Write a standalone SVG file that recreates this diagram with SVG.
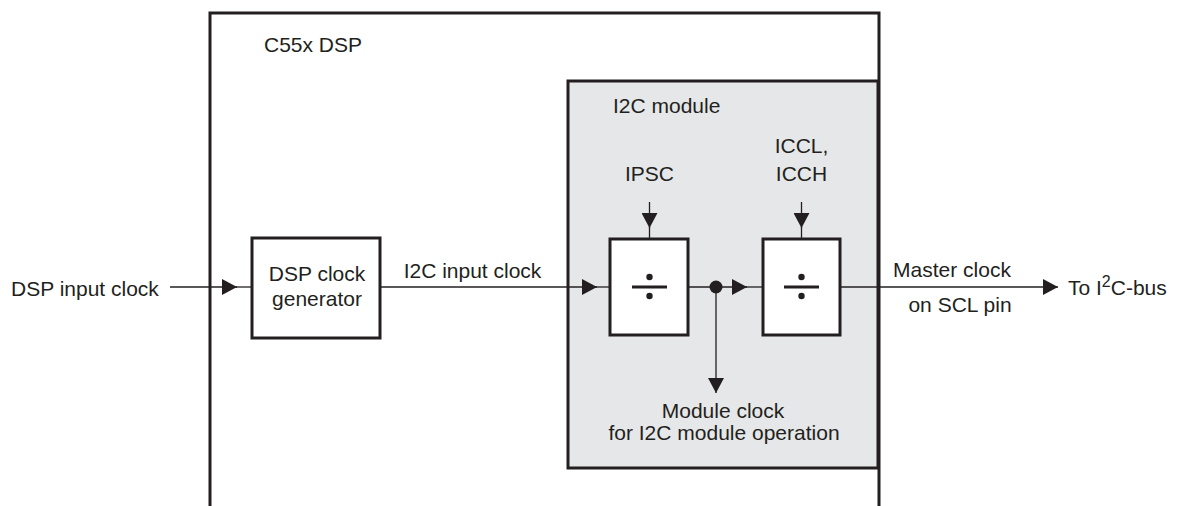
<svg xmlns="http://www.w3.org/2000/svg" width="1180" height="506" viewBox="0 0 1180 506">
<style>
text{font-family:"Liberation Sans",Arial,sans-serif;font-size:21px;fill:#231f20}
.c{text-anchor:middle}
.box{fill:#fff;stroke:#231f20;stroke-width:3}
.edge{fill:none;stroke:#231f20;stroke-width:3}
.ln{fill:none;stroke:#231f20;stroke-width:1.3}
.ah{fill:#231f20}
</style>
<defs>
<marker id="arr" markerUnits="userSpaceOnUse" markerWidth="16" markerHeight="16" viewBox="0 0 16 16" refX="15" refY="8" orient="auto">
<path d="M0,0 L15,8 L0,16 z" class="ah"/>
</marker>
</defs>
<rect width="1180" height="506" fill="#fff"/>
<g id="dsp">
<path class="edge" d="M210,506 V13 H879 V506"/>
<text x="264" y="52">C55x DSP</text>
</g>
<g id="i2c-module">
<rect x="568" y="81" width="310" height="387" fill="#e6e7e8" stroke="#231f20" stroke-width="3"/>
<text x="613" y="113">I2C module</text>
</g>
<g id="clockgen">
<rect class="box" x="252" y="238" width="128" height="100"/>
<text class="c" x="317" y="281">DSP clock</text>
<text class="c" x="317" y="306">generator</text>
</g>
<g id="ipsc-div">
<rect class="box" x="610" y="239" width="78" height="96"/>
<rect x="632" y="285.5" width="35" height="3" class="ah"/>
<circle cx="649.5" cy="277" r="3.2" class="ah"/>
<circle cx="649.5" cy="296" r="3.2" class="ah"/>
</g>
<g id="iccl-div">
<rect class="box" x="763" y="239" width="77" height="96"/>
<rect x="784" y="285.5" width="35" height="3" class="ah"/>
<circle cx="801.5" cy="277" r="3.2" class="ah"/>
<circle cx="801.5" cy="296" r="3.2" class="ah"/>
</g>
<g id="labels">
<text x="11" y="296">DSP input clock</text>
<text class="c" x="472.5" y="278">I2C input clock</text>
<text class="c" x="649.5" y="181">IPSC</text>
<text class="c" x="801.5" y="153">ICCL,</text>
<text class="c" x="801.5" y="181">ICCH</text>
<text class="c" x="952" y="277">Master clock</text>
<text class="c" x="960" y="312">on SCL pin</text>
<text x="1068" y="295">To I<tspan font-size="16" dy="-8">2</tspan><tspan dy="8">C-bus</tspan></text>
<text class="c" x="723" y="418">Module clock</text>
<text class="c" x="724" y="440">for I2C module operation</text>
</g>
<g id="connectors">
<line class="ln" x1="170" y1="287" x2="237" y2="287" marker-end="url(#arr)"/>
<line class="ln" x1="236" y1="287" x2="252" y2="287"/>
<line class="ln" x1="380" y1="287" x2="597" y2="287" marker-end="url(#arr)"/>
<line class="ln" x1="596" y1="287" x2="610" y2="287"/>
<line class="ln" x1="688" y1="287" x2="747" y2="287" marker-end="url(#arr)"/>
<line class="ln" x1="746" y1="287" x2="763" y2="287"/>
<line class="ln" x1="840" y1="287" x2="1058" y2="287" marker-end="url(#arr)"/>
<circle cx="716" cy="287" r="6.5" class="ah"/>
<line class="ln" x1="716" y1="287" x2="716" y2="393" marker-end="url(#arr)"/>
<line class="ln" x1="649.5" y1="202" x2="649.5" y2="228" marker-end="url(#arr)"/>
<line class="ln" x1="649.5" y1="227" x2="649.5" y2="239"/>
<line class="ln" x1="801.5" y1="202" x2="801.5" y2="228" marker-end="url(#arr)"/>
<line class="ln" x1="801.5" y1="227" x2="801.5" y2="239"/>
</g>
</svg>
